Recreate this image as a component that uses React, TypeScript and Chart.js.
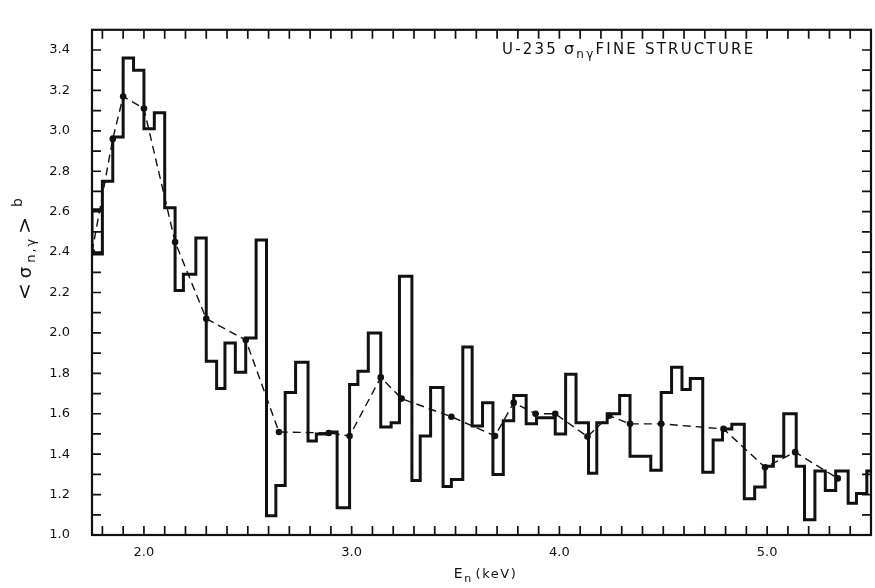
import React, { useEffect, useRef } from "react";
import { Chart, registerables } from "chart.js";

Chart.register(...registerables);

// Histogram: left edge of each energy bin (keV) and its cross section (b)
const binEdges = [
  1.75, 1.8, 1.85, 1.9, 1.95, 2.0, 2.05, 2.1, 2.15, 2.19, 2.25, 2.3, 2.35, 2.39,
  2.44, 2.49, 2.54, 2.59, 2.635, 2.68, 2.73, 2.79, 2.83, 2.89, 2.93, 2.99, 3.03,
  3.08, 3.14, 3.19, 3.23, 3.29, 3.33, 3.38, 3.44, 3.48, 3.535, 3.58, 3.63, 3.68,
  3.73, 3.78, 3.84, 3.89, 3.98, 4.03, 4.08, 4.14, 4.18, 4.23, 4.29, 4.34, 4.44,
  4.49, 4.54, 4.59, 4.63, 4.69, 4.74, 4.785, 4.83, 4.89, 4.94, 4.99, 5.03, 5.08,
  5.14, 5.18, 5.23, 5.28, 5.33, 5.39, 5.43, 5.48,
];
const binValues = [
  2.39, 2.75, 2.97, 3.36, 3.3, 3.01, 3.09, 2.62, 2.21, 2.29, 2.47, 1.86, 1.725,
  1.95, 1.805, 1.975, 2.46, 1.095, 1.245, 1.705, 1.855, 1.465, 1.5, 1.51, 1.135,
  1.745, 1.81, 2.0, 1.535, 1.555, 2.28, 1.27, 1.49, 1.73, 1.24, 1.275, 1.93, 1.54,
  1.655, 1.3, 1.565, 1.69, 1.55, 1.58, 1.5, 1.795, 1.555, 1.305, 1.555, 1.6, 1.69,
  1.39, 1.32, 1.705, 1.83, 1.72, 1.775, 1.31, 1.47, 1.525, 1.548, 1.18, 1.238,
  1.34, 1.39, 1.6, 1.34, 1.075, 1.317, 1.22, 1.317, 1.157, 1.205, 1.317,
];
const histEnd = 5.5;
const leadBoxTop = 2.61;

// Averaged values (dashed line with dots)
const avgEnergies = [
  1.75, 1.85, 1.9, 2.0, 2.15, 2.3, 2.49, 2.65, 2.89, 2.99, 3.14, 3.24, 3.48, 3.69,
  3.78, 3.885, 3.98, 4.135, 4.24, 4.34, 4.49, 4.79, 4.99, 5.135, 5.34,
];
const avgValues = [
  2.4, 2.96, 3.17, 3.11, 2.45, 2.07, 1.965, 1.51, 1.505, 1.49, 1.78, 1.675, 1.585,
  1.49, 1.655, 1.6, 1.6, 1.487, 1.59, 1.55, 1.55, 1.525, 1.335, 1.41, 1.28,
];

// Axes
const xMin = 1.75;
const xMax = 5.5;
const yMin = 1.0;
const yMax = 3.5;
const xLabelValues = [2.0, 3.0, 4.0, 5.0];
const yLabelValues = [1.0, 1.2, 1.4, 1.6, 1.8, 2.0, 2.2, 2.4, 2.6, 2.8, 3.0, 3.2, 3.4];
const minorStep = 0.1;

const INK = "#111111";
const FONT = "'DejaVu Sans', sans-serif";

type Part = { t: string; size: number; dy: number; gap?: number };

function drawRun(ctx: CanvasRenderingContext2D, parts: Part[], x: number, y: number) {
  let cx = x;
  for (const p of parts) {
    ctx.font = `${p.size}px ${FONT}`;
    ctx.fillText(p.t, cx, y + p.dy);
    cx += ctx.measureText(p.t).width + (p.gap ?? 0);
  }
  return cx;
}

function runWidth(ctx: CanvasRenderingContext2D, parts: Part[]) {
  let w = 0;
  for (const p of parts) {
    ctx.font = `${p.size}px ${FONT}`;
    w += ctx.measureText(p.t).width + (p.gap ?? 0);
  }
  return w;
}

const framePlugin = {
  id: "frameAndText",
  beforeDraw(chart: any) {
    const { ctx, width, height } = chart;
    ctx.save();
    ctx.fillStyle = "#ffffff";
    ctx.fillRect(0, 0, width, height);
    ctx.restore();
  },
  afterDraw(chart: any) {
    const { ctx, chartArea } = chart;
    const xs = chart.scales.x;
    const ys = chart.scales.y;
    const { left, right, top, bottom } = chartArea;
    ctx.save();
    ctx.strokeStyle = INK;
    ctx.lineWidth = 2.2;
    ctx.strokeRect(left, top, right - left, bottom - top);

    // inward tick marks on all four sides
    ctx.lineWidth = 1.7;
    const tl = 9;
    ctx.beginPath();
    for (let i = 0; ; i++) {
      const v = Math.round((xMin + 0.05 + i * minorStep) * 1000) / 1000;
      if (v >= xMax - 1e-9) break;
      const px = xs.getPixelForValue(v);
      ctx.moveTo(px, bottom);
      ctx.lineTo(px, bottom - tl);
      ctx.moveTo(px, top);
      ctx.lineTo(px, top + tl);
    }
    for (let i = 1; yMin + i * minorStep < yMax - 1e-9; i++) {
      const v = yMin + i * minorStep;
      const py = ys.getPixelForValue(v);
      ctx.moveTo(left, py);
      ctx.lineTo(left + tl, py);
      ctx.moveTo(right, py);
      ctx.lineTo(right - tl, py);
    }
    ctx.stroke();

    ctx.fillStyle = INK;
    ctx.textBaseline = "alphabetic";
    ctx.textAlign = "left";

    // annotation in the upper right
    (ctx as any).letterSpacing = "2.2px";
    const ann: Part[] = [
      { t: "U-235", size: 15, dy: 0, gap: 6 },
      { t: "σ", size: 16, dy: 0 },
      { t: "nγ", size: 12, dy: 4, gap: 0 },
      { t: "FINE STRUCTURE", size: 15, dy: 0 },
    ];
    drawRun(ctx, ann, 502, 54);

    // x-axis title
    (ctx as any).letterSpacing = "1.5px";
    const xt: Part[] = [
      { t: "E", size: 14, dy: 0 },
      { t: "n", size: 11, dy: 4, gap: 3 },
      { t: "(keV)", size: 13, dy: 0 },
    ];
    const xw = runWidth(ctx, xt);
    drawRun(ctx, xt, (left + right) / 2 - xw / 2 + 4, 578);

    // y-axis title (rotated)
    (ctx as any).letterSpacing = "2px";
    const yt: Part[] = [
      { t: "<", size: 20, dy: 0, gap: 3 },
      { t: "σ", size: 18, dy: 0, gap: 2 },
      { t: "n,γ", size: 13, dy: 4, gap: 3 },
      { t: ">", size: 20, dy: 0, gap: 8 },
      { t: "b", size: 14, dy: -9 },
    ];
    const yw = runWidth(ctx, yt);
    ctx.translate(31, 248);
    ctx.rotate(-Math.PI / 2);
    drawRun(ctx, yt, -yw / 2, 0);
    ctx.restore();
  },
};

export default function App() {
  const canvasRef = useRef<HTMLCanvasElement | null>(null);

  useEffect(() => {
    document.body.style.margin = "0";
    const canvas = canvasRef.current;
    if (!canvas) return;

    const histPoints = [
      { x: binEdges[1], y: leadBoxTop },
      { x: binEdges[0], y: leadBoxTop },
      ...binEdges.map((e, i) => ({ x: e, y: binValues[i] })),
      { x: histEnd, y: binValues[binValues.length - 1] },
    ];
    const avgPoints = avgEnergies.map((e, i) => ({ x: e, y: avgValues[i] }));

    const chart = new Chart(canvas, {
      type: "line",
      data: {
        datasets: [
          {
            label: "histogram",
            data: histPoints,
            stepped: "before",
            borderColor: INK,
            borderWidth: 3,
            pointRadius: 0,
            fill: false,
            borderJoinStyle: "miter",
          },
          {
            label: "average",
            data: avgPoints,
            borderColor: INK,
            borderWidth: 1.4,
            borderDash: [8, 5],
            pointRadius: 3.3,
            pointBackgroundColor: INK,
            pointBorderColor: INK,
            pointBorderWidth: 0,
            tension: 0,
            fill: false,
          },
        ],
      },
      options: {
        animation: false,
        responsive: false,
        devicePixelRatio: 1,
        layout: { padding: { top: 10, right: 3, left: 0, bottom: 0 } },
        plugins: {
          legend: { display: false },
          tooltip: { enabled: false },
          title: { display: false },
        },
        scales: {
          x: {
            type: "linear",
            min: xMin,
            max: xMax,
            grid: { display: false, drawTicks: false },
            border: { display: false },
            afterBuildTicks: (scale: any) => {
              scale.ticks = xLabelValues.map((v) => ({ value: v }));
            },
            afterFit: (scale: any) => {
              scale.height = 53;
            },
            ticks: {
              autoSkip: false,
              maxRotation: 0,
              padding: 10,
              color: INK,
              font: { family: FONT, size: 13 },
              callback: (v: any) => Number(v).toFixed(1),
            },
          },
          y: {
            type: "linear",
            min: yMin,
            max: yMax,
            grid: { display: false, drawTicks: false },
            border: { display: false },
            afterBuildTicks: (scale: any) => {
              scale.ticks = yLabelValues.map((v) => ({ value: v }));
            },
            afterFit: (scale: any) => {
              scale.width = 92;
            },
            ticks: {
              autoSkip: false,
              padding: 22,
              color: INK,
              font: { family: FONT, size: 13 },
              callback: (v: any) => Number(v).toFixed(1),
            },
          },
        },
      },
      plugins: [framePlugin],
    });

    return () => chart.destroy();
  }, []);

  return (
    <div style={{ position: "absolute", left: 0, top: 0, width: 875, height: 588 }}>
      <canvas ref={canvasRef} width={875} height={588} style={{ width: 875, height: 588 }} />
    </div>
  );
}
